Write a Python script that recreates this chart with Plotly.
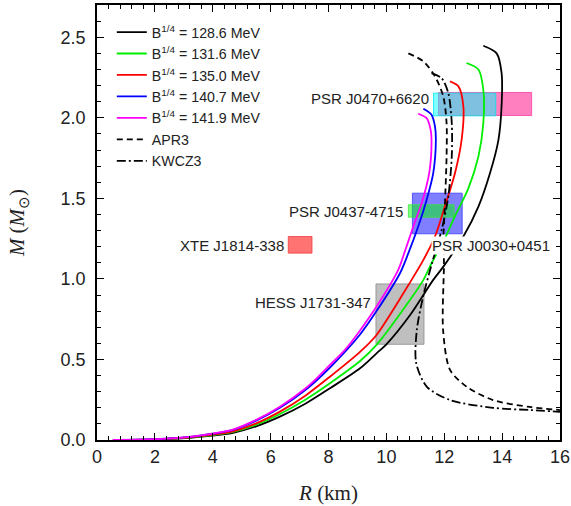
import plotly.graph_objects as go

# ---------------- data ----------------
labels_B = ["B<sup>1/4</sup> = 128.6 MeV", "B<sup>1/4</sup> = 131.6 MeV",
            "B<sup>1/4</sup> = 135.0 MeV", "B<sup>1/4</sup> = 140.7 MeV",
            "B<sup>1/4</sup> = 141.9 MeV"]
colors_B = ["black", "#00ee00", "red", "blue", "magenta"]

R_1286 = [0.55, 2.0, 3.2, 4.0, 4.7, 5.5, 6.32, 7.2, 8.05, 9.09, 9.66, 10.0, 10.82, 11.62, 11.97, 12.66, 13.18, 13.58, 13.87, 13.98, 13.98, 13.81, 13.35]
M_1286 = [0.0, 0.003, 0.014, 0.027, 0.045, 0.085, 0.145, 0.225, 0.321, 0.445, 0.538, 0.594, 0.776, 0.994, 1.076, 1.263, 1.449, 1.656, 1.86, 2.07, 2.28, 2.40, 2.447]

R_1316 = [0.55, 2.0, 3.2, 4.0, 4.7, 5.5, 6.32, 7.2, 8.05, 9.09, 9.66, 10.82, 11.28, 11.56, 12.02, 12.37, 12.83, 13.18, 13.35, 13.35, 13.18, 12.77]
M_1316 = [0.0, 0.004, 0.016, 0.03, 0.05, 0.095, 0.161, 0.25, 0.352, 0.49, 0.59, 0.87, 0.994, 1.097, 1.25, 1.39, 1.56, 1.76, 1.967, 2.174, 2.30, 2.34]

R_1350 = [0.55, 2.0, 3.2, 4.0, 4.7, 5.5, 6.32, 7.2, 8.05, 9.09, 9.66, 10.87, 11.28, 11.68, 12.02, 12.37, 12.6, 12.66, 12.49, 12.2]
M_1350 = [0.0, 0.004, 0.017, 0.033, 0.054, 0.103, 0.176, 0.275, 0.393, 0.547, 0.652, 0.994, 1.118, 1.263, 1.449, 1.656, 1.863, 2.07, 2.195, 2.226]

R_1407 = [0.55, 2.0, 3.2, 4.0, 4.7, 5.5, 6.32, 7.2, 8.05, 9.09, 9.66, 10.47, 10.76, 11.1, 11.39, 11.62, 11.71, 11.68, 11.56, 11.28]
M_1407 = [0.0, 0.005, 0.019, 0.039, 0.063, 0.12, 0.20, 0.31, 0.45, 0.655, 0.80, 1.035, 1.16, 1.325, 1.49, 1.656, 1.863, 1.946, 2.019, 2.056]

R_1419 = [0.55, 2.0, 3.2, 4.0, 4.7, 5.5, 6.32, 7.2, 7.59, 8.05, 8.57, 9.09, 9.66, 10.41, 10.58, 10.93, 11.22, 11.48, 11.56, 11.53, 11.39, 11.1]
M_1419 = [0.0, 0.005, 0.02, 0.04, 0.065, 0.125, 0.207, 0.32, 0.383, 0.466, 0.56, 0.68, 0.828, 1.056, 1.139, 1.325, 1.47, 1.656, 1.843, 1.925, 1.998, 2.025]

R_APR3 = [10.76, 11.28, 11.68, 11.97, 12.08, 12.08, 12.02, 11.97, 11.99, 11.96, 12.2, 12.78, 13.68, 14.96, 16.0]
M_APR3 = [2.40, 2.35, 2.257, 2.13, 1.967, 1.76, 1.449, 1.242, 1.10, 0.683, 0.435, 0.33, 0.248, 0.205, 0.186]

R_KWCZ3 = [11.56, 11.91, 12.14, 12.26, 12.26, 12.14, 11.91, 11.58, 11.27, 11.05, 11.03, 11.4, 12.2, 13.68, 14.96, 16.0]
M_KWCZ3 = [2.277, 2.246, 2.153, 1.967, 1.76, 1.511, 1.304, 1.10, 0.89, 0.68, 0.477, 0.33, 0.248, 0.20, 0.186, 0.175]

# observational constraints: (name, R_min, R_max, M_min, M_max, fill, line)
boxes = [
    ("PSR J0740+6620 (pink)", 11.80, 15.02, 2.014, 2.157, "rgba(255,0,128,0.5)", "rgba(255,60,160,0.8)"),
    ("PSR J0740+6620 (cyan)", 11.63, 13.78, 2.012, 2.153, "rgba(0,255,255,0.5)", "rgba(0,230,240,0.8)"),
    ("PSR J0030+0451", 10.90, 12.62, 1.28, 1.532, "rgba(0,0,255,0.5)", "rgba(60,60,255,0.8)"),
    ("PSR J0437-4715", 10.76, 12.34, 1.383, 1.46, "rgba(0,255,0,0.5)", "rgba(60,230,60,0.8)"),
    ("XTE J1814-338", 6.61, 7.43, 1.16, 1.263, "rgba(255,0,0,0.55)", "rgba(240,60,60,0.8)"),
    ("HESS J1731-347", 9.64, 11.30, 0.594, 0.969, "rgba(128,128,128,0.5)", "rgba(140,140,140,0.8)"),
]

# labels: (text, R, M, anchor, white background)
labels = [
    ("PSR J0470+6620", 11.5, 2.12, "right", False),
    ("PSR J0437-4715", 10.6, 1.42, "right", False),
    ("XTE J1814-338", 6.5, 1.205, "right", False),
    ("HESS J1731-347", 9.5, 0.853, "right", False),
    ("PSR J0030+0451", 11.55, 1.21, "left", True),
]

x_ticks = [0, 2, 4, 6, 8, 10, 12, 14, 16]
y_ticks = [0.0, 0.5, 1.0, 1.5, 2.0, 2.5]

# ---------------- figure ----------------
fig = go.Figure()

series = [(R_1286, M_1286), (R_1316, M_1316), (R_1350, M_1350), (R_1407, M_1407), (R_1419, M_1419)]
for (r, m), name, c in zip(series, labels_B, colors_B):
    fig.add_trace(go.Scatter(x=r, y=m, mode="lines", name=name,
                             line=dict(color=c, width=1.8, shape="spline", smoothing=0.8)))

fig.add_trace(go.Scatter(x=R_APR3, y=M_APR3, mode="lines", name="APR3",
                         line=dict(color="black", width=1.8, dash="6px,4px", shape="spline", smoothing=0.8)))
fig.add_trace(go.Scatter(x=R_KWCZ3, y=M_KWCZ3, mode="lines", name="KWCZ3",
                         line=dict(color="black", width=1.8, dash="9px,3px,2px,3px", shape="spline", smoothing=0.8)))

for name, x0, x1, y0, y1, fill, lc in boxes:
    fig.add_shape(type="rect", x0=x0, x1=x1, y0=y0, y1=y1, xref="x", yref="y",
                  fillcolor=fill, line=dict(color=lc, width=1), layer="below")

for text, x, y, anc, bg in labels:
    fig.add_annotation(x=x, y=y, xref="x", yref="y", text=text, showarrow=False,
                       xanchor=anc, yanchor="middle",
                       font=dict(family="Liberation Sans, Arial", size=15, color="#222"),
                       bgcolor="white" if bg else "rgba(0,0,0,0)", borderpad=0)

axis_common = dict(showline=True, linecolor="black", linewidth=1.5, mirror="allticks",
                   ticks="inside", ticklen=7, tickwidth=1.3, tickcolor="black",
                   showgrid=False, zeroline=False, automargin=False,
                   tickfont=dict(family="Liberation Sans, Arial", size=18, color="#222"))

fig.update_xaxes(range=[0, 16], tickvals=x_ticks, ticktext=[str(v) for v in x_ticks],
                 minor=dict(dtick=0.4, tick0=0, ticklen=4, tickwidth=1.1, tickcolor="black", ticks="inside"),
                 title=dict(text="<i>R</i> (km)", standoff=19,
                            font=dict(family="Liberation Serif, Times New Roman", size=21, color="#222")),
                 **axis_common)
fig.update_yaxes(range=[0, 2.7], tickvals=y_ticks, ticktext=[f"{v:.1f}" for v in y_ticks],
                 minor=dict(dtick=0.1, tick0=0, ticklen=4, tickwidth=1.1, tickcolor="black", ticks="inside"),
                 ticklabelstandoff=6,
                 title=dict(text="<i>M</i> (<i>M</i><sub>⊙</sub>)", standoff=30,
                            font=dict(family="Liberation Serif, Times New Roman", size=21, color="#222")),
                 **axis_common)

fig.update_layout(
    width=571, height=506,
    margin=dict(l=97, r=11, t=5, b=66, autoexpand=False),
    paper_bgcolor="white", plot_bgcolor="white",
    showlegend=True,
    legend=dict(x=0.032, y=0.974, xanchor="left", yanchor="top",
                bgcolor="rgba(0,0,0,0)", borderwidth=0,
                font=dict(family="Liberation Sans, Arial", size=14.2, color="#222"),
                tracegroupgap=0),
)

fig.write_html("out.html", config={"displayModeBar": False},
               post_script="document.body.style.margin='0';document.body.style.padding='0';")
